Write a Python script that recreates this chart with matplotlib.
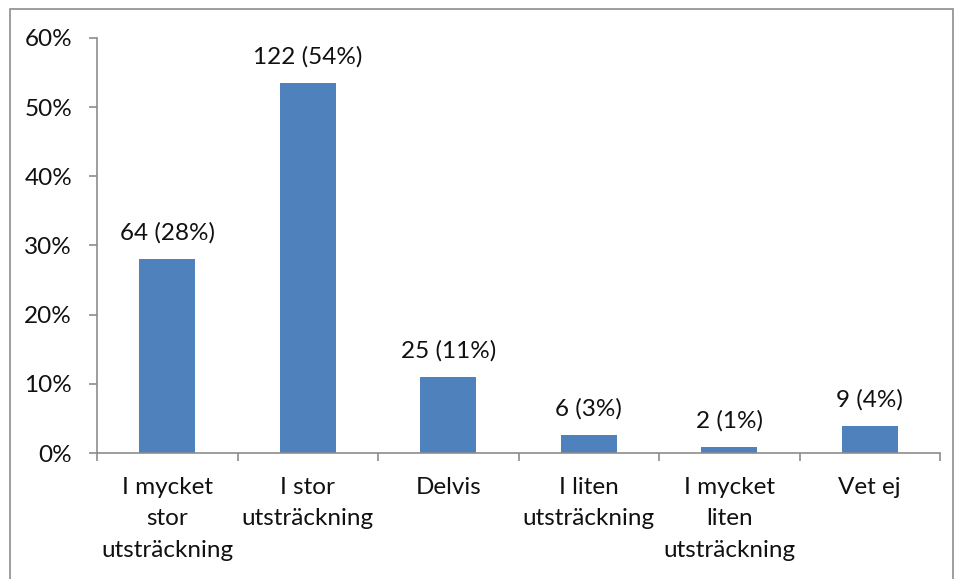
import matplotlib
matplotlib.use("Agg")
import matplotlib.pyplot as plt
from matplotlib.patches import Rectangle
from matplotlib.ticker import FixedLocator

categories = ["I mycket\nstor\nutsträckning", "I stor\nutsträckning", "Delvis",
              "I liten\nutsträckning", "I mycket\nliten\nutsträckning", "Vet ej"]
counts = [64, 122, 25, 6, 2, 9]
pct_labels = ["28%", "54%", "11%", "3%", "1%", "4%"]
yticks = [0, 0.1, 0.2, 0.3, 0.4, 0.5, 0.6]
ytick_labels = ["0%", "10%", "20%", "30%", "40%", "50%", "60%"]

total = sum(counts)
shares = [c / total for c in counts]

plt.rcParams['font.family'] = ['Lato', 'DejaVu Sans']
fig = plt.figure(figsize=(9.56, 5.79), dpi=100)
ax = fig.add_axes([97/956, 1-453/579, (940-97)/956, (453-38)/579])

# outer frame
fig.patches.append(Rectangle((10/956, -0.1), (953-10)/956, 1.1 - 9/579,
                             transform=fig.transFigure, fill=False,
                             edgecolor='#8c8c8c', linewidth=1.2))

FS = 17.5
TXT = '#111111'
x = list(range(len(categories)))
bars = ax.bar(x, shares, width=0.4, color='#4f81bd')
for xi, s, c, p in zip(x, shares, counts, pct_labels):
    ax.annotate(f"{c} ({p})", (xi, s), xytext=(0, 11), textcoords='offset points',
                ha='center', va='bottom', fontsize=FS, color=TXT)

ax.set_xlim(-0.5, len(categories) - 0.5)
ax.set_ylim(0, 0.6)
ax.set_yticks(yticks)
ax.set_yticklabels(ytick_labels, fontsize=FS, color=TXT)
ax.set_xticks(x)
ax.set_xticklabels(categories, fontsize=FS, linespacing=1.63, va='top', color=TXT)
ax.tick_params(axis='x', length=0, pad=17)
ax.xaxis.set_minor_locator(FixedLocator([i - 0.5 for i in range(len(categories) + 1)]))
ax.tick_params(axis='x', which='minor', length=6, color='#8c8c8c', width=1.2)
ax.tick_params(axis='y', length=6, color='#8c8c8c', width=1.2, pad=12)
for side in ['top', 'right']:
    ax.spines[side].set_visible(False)
for side in ['left', 'bottom']:
    ax.spines[side].set_color('#8c8c8c')
    ax.spines[side].set_linewidth(1.2)

fig.savefig("out.png", dpi=100)
